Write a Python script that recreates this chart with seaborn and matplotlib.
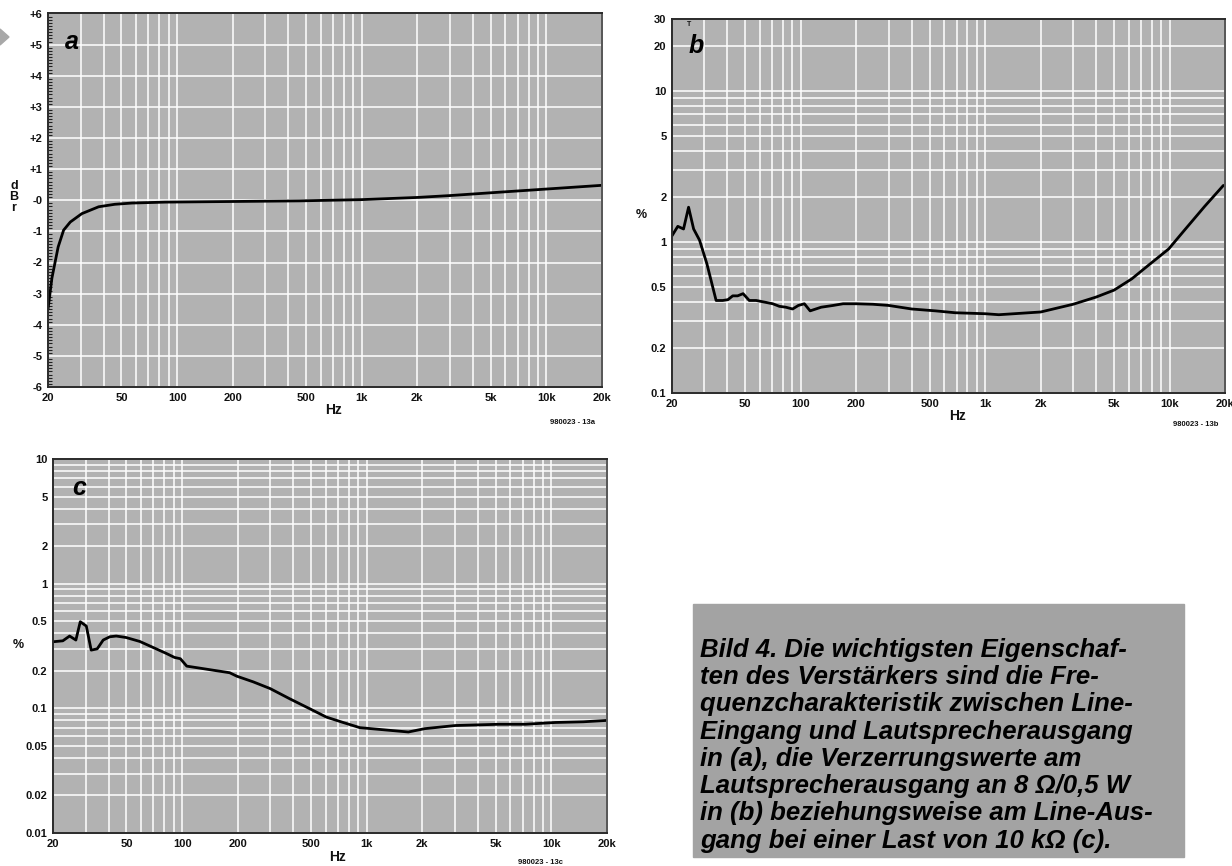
import numpy as np
import pandas as pd
import matplotlib
matplotlib.use("Agg")
import matplotlib.pyplot as plt
import matplotlib.ticker as mticker
import seaborn as sns

# (a) frequency response, dBr
freq_a = [20, 21, 22.7, 24.3, 26.4, 30.5, 37.6, 46, 57, 86, 200, 460, 1000, 2000, 3000, 5600, 10000, 20000]
dbr_a = [-3.5, -2.5, -1.5, -0.96, -0.70, -0.43, -0.21, -0.13, -0.09, -0.06, -0.04, -0.02, 0.02, 0.09, 0.15, 0.26, 0.36, 0.48]

# (b) distortion at speaker output, %
freq_b = [20, 21.5, 23.1, 24.6, 26.2, 28.2, 30.9, 34.7, 37.7, 40.2, 42.7, 45.4, 48.6, 52.5, 57.2, 63.5,
          70.4, 76.5, 82.9, 90.2, 96.9, 104.5, 112.3, 128.9, 149.5, 169.5, 200, 246, 300, 400, 537, 688,
          1000, 1186, 2000, 3000, 4000, 5000, 6240, 7670, 9900, 12000, 15500, 19600]
thd_b = [1.10, 1.27, 1.22, 1.70, 1.22, 1.03, 0.72, 0.41, 0.41, 0.415, 0.44, 0.44, 0.455, 0.41, 0.41, 0.40,
         0.39, 0.375, 0.37, 0.36, 0.38, 0.39, 0.35, 0.37, 0.38, 0.39, 0.39, 0.387, 0.38, 0.36, 0.35, 0.34,
         0.335, 0.33, 0.344, 0.387, 0.432, 0.48, 0.57, 0.70, 0.90, 1.19, 1.72, 2.37]

# (c) distortion at line output, %
freq_c = [20, 22.6, 24.6, 26.6, 28.1, 30.3, 32.2, 34.7, 37.4, 40.6, 44, 49.7, 59, 72.4, 82, 91, 97.9,
          106, 125, 148, 181, 198, 243, 300, 384, 493, 605, 745, 917, 1205, 1680, 2060, 3020, 5200,
          7200, 10500, 14900, 20000]
thd_c = [0.342, 0.348, 0.38, 0.353, 0.495, 0.457, 0.293, 0.30, 0.353, 0.375, 0.38, 0.37, 0.344, 0.30,
         0.276, 0.256, 0.25, 0.218, 0.21, 0.202, 0.193, 0.181, 0.163, 0.144, 0.119, 0.099, 0.085, 0.077,
         0.070, 0.0675, 0.0646, 0.0687, 0.0728, 0.0745, 0.0745, 0.077, 0.078, 0.080]

x_ticks = [20, 50, 100, 200, 500, 1000, 2000, 5000, 10000, 20000]
x_labels = ["20", "50", "100", "200", "500", "1k", "2k", "5k", "10k", "20k"]
ya_ticks = list(range(-6, 7))
ya_labels = ["+%d" % v if v > 0 else ("-0" if v == 0 else "%d" % v) for v in ya_ticks]
yb_ticks = [0.1, 0.2, 0.5, 1, 2, 5, 10, 20, 30]
yb_labels = ["0.1", "0.2", "0.5", "1", "2", "5", "10", "20", "30"]
yc_ticks = [0.01, 0.02, 0.05, 0.1, 0.2, 0.5, 1, 2, 5, 10]
yc_labels = ["0.01", "0.02", "0.05", "0.1", "0.2", "0.5", "1", "2", "5", "10"]

caption = ("Bild 4. Die wichtigsten Eigenschaf-\n"
           "ten des Verstärkers sind die Fre-\n"
           "quenzcharakteristik zwischen Line-\n"
           "Eingang und Lautsprecherausgang\n"
           "in (a), die Verzerrungswerte am\n"
           "Lautsprecherausgang an 8 Ω/0,5 W\n"
           "in (b) beziehungsweise am Line-Aus-\n"
           "gang bei einer Last von 10 kΩ (c).")

sns.set_theme(style="white")
plt.rcParams["font.family"] = ["Liberation Sans", "DejaVu Sans"]
plt.rcParams["font.weight"] = "bold"
plt.rcParams["text.color"] = "#111111"

BG = "#b2b2b2"
INK = "#111111"
W, H = 1232, 866
fig = plt.figure(figsize=(W / 100, H / 100), dpi=100)


def px_axes(x0, y0, x1, y1):
    return fig.add_axes([x0 / W, 1 - y1 / H, (x1 - x0) / W, (y1 - y0) / H])


def style_axes(ax, yticks, ylabels):
    ax.set_facecolor(BG)
    ax.set_xscale("log")
    ax.set_xlim(20, 20000)
    ax.set_xticks(x_ticks)
    ax.set_xticklabels(x_labels)
    ax.xaxis.set_minor_locator(mticker.LogLocator(base=10, subs=np.arange(2, 10)))
    ax.xaxis.set_minor_formatter(mticker.NullFormatter())
    ax.set_yticks(yticks)
    ax.set_yticklabels(ylabels)
    ax.grid(True, which="both", color="white", linewidth=1.1)
    ax.set_axisbelow(True)
    ax.tick_params(axis="both", which="both", length=0, labelsize=8, pad=4)
    for lab in ax.get_xticklabels() + ax.get_yticklabels():
        lab.set_fontweight("bold")
        lab.set_color(INK)
    for s in ax.spines.values():
        s.set_visible(True)
        s.set_color("#2a2a2a")
        s.set_linewidth(1.4)
    ax.spines["right"].set_color("#555555")
    ax.set_xlabel("")
    ax.set_ylabel("")


letter_kw = dict(fontsize=18, fontweight="bold", fontstyle="italic", va="top", ha="left", color="black")

# panel a
ax_a = px_axes(48, 13.5, 602, 387)
df_a = pd.DataFrame({"f": freq_a, "v": dbr_a})
sns.lineplot(data=df_a, x="f", y="v", ax=ax_a, color="black", linewidth=2.0)
ax_a.set_ylim(-6, 6)
style_axes(ax_a, ya_ticks, ya_labels)
ax_a.yaxis.set_minor_locator(mticker.MultipleLocator(0.1))
ax_a.tick_params(axis="y", which="minor", direction="in", length=3, width=0.8, color="#222222", left=True)
ax_a.grid(False, axis="y", which="minor")
ax_a.text(0.03, 0.955, "a", transform=ax_a.transAxes, **letter_kw)

# panel b
ax_b = px_axes(672, 19, 1225, 393)
df_b = pd.DataFrame({"f": freq_b, "v": thd_b})
sns.lineplot(data=df_b, x="f", y="v", ax=ax_b, color="black", linewidth=2.0)
ax_b.set_yscale("log")
ax_b.set_ylim(0.1, 30)
ax_b.yaxis.set_minor_locator(mticker.LogLocator(base=10, subs=np.arange(2, 10)))
ax_b.yaxis.set_minor_formatter(mticker.NullFormatter())
style_axes(ax_b, yb_ticks, yb_labels)
ax_b.text(0.03, 0.96, "b", transform=ax_b.transAxes, **letter_kw)
fig.text(689 / W, 1 - 25 / H, "T", fontsize=5, ha="center", va="center")

# panel c
ax_c = px_axes(53, 459, 607, 833)
df_c = pd.DataFrame({"f": freq_c, "v": thd_c})
sns.lineplot(data=df_c, x="f", y="v", ax=ax_c, color="black", linewidth=2.0)
ax_c.set_yscale("log")
ax_c.set_ylim(0.01, 10)
ax_c.yaxis.set_minor_locator(mticker.LogLocator(base=10, subs=np.arange(2, 10)))
ax_c.yaxis.set_minor_formatter(mticker.NullFormatter())
style_axes(ax_c, yc_ticks, yc_labels)
ax_c.text(0.035, 0.955, "c", transform=ax_c.transAxes, **letter_kw)

# axis labels and figure codes
lab_kw = dict(fontsize=10, fontweight="bold", ha="center", va="center", color=INK)
fig.text(333 / W, 1 - 410 / H, "Hz", **lab_kw)
fig.text(958 / W, 1 - 416 / H, "Hz", **lab_kw)
fig.text(338 / W, 1 - 857 / H, "Hz", **lab_kw)
fig.text(14 / W, 1 - 197 / H, "d\nB\nr", fontsize=9, fontweight="bold", ha="center", va="center",
         linespacing=0.85, color=INK)
fig.text(641 / W, 1 - 215 / H, "%", fontsize=9, fontweight="bold", ha="center", va="center", color=INK)
fig.text(18 / W, 1 - 645 / H, "%", fontsize=9, fontweight="bold", ha="center", va="center", color=INK)
code_kw = dict(fontsize=5.5, fontweight="bold", ha="center", va="center", color=INK)
fig.text(572 / W, 1 - 422 / H, "980023 - 13a", **code_kw)
fig.text(1196 / W, 1 - 424 / H, "980023 - 13b", **code_kw)
fig.text(541 / W, 1 - 862 / H, "980023 - 13c", **code_kw)

# little grey arrow at the top left
fig.patches.append(plt.Polygon([[0, 1 - 29 / H], [9 / W, 1 - 37 / H], [0, 1 - 45 / H]],
                               closed=True, transform=fig.transFigure, color="#a8a8a8"))

# caption box
fig.patches.append(plt.Rectangle((693 / W, 1 - 857 / H), (1184 - 693) / W, (857 - 604) / H,
                                 transform=fig.transFigure, color="#a3a3a3", zorder=0))
fig.text(700 / W, 1 - 638 / H, caption, fontsize=18.5, fontweight="bold", fontstyle="italic",
         ha="left", va="top", linespacing=1.17, color="black")

fig.savefig("out.png", dpi=100)
